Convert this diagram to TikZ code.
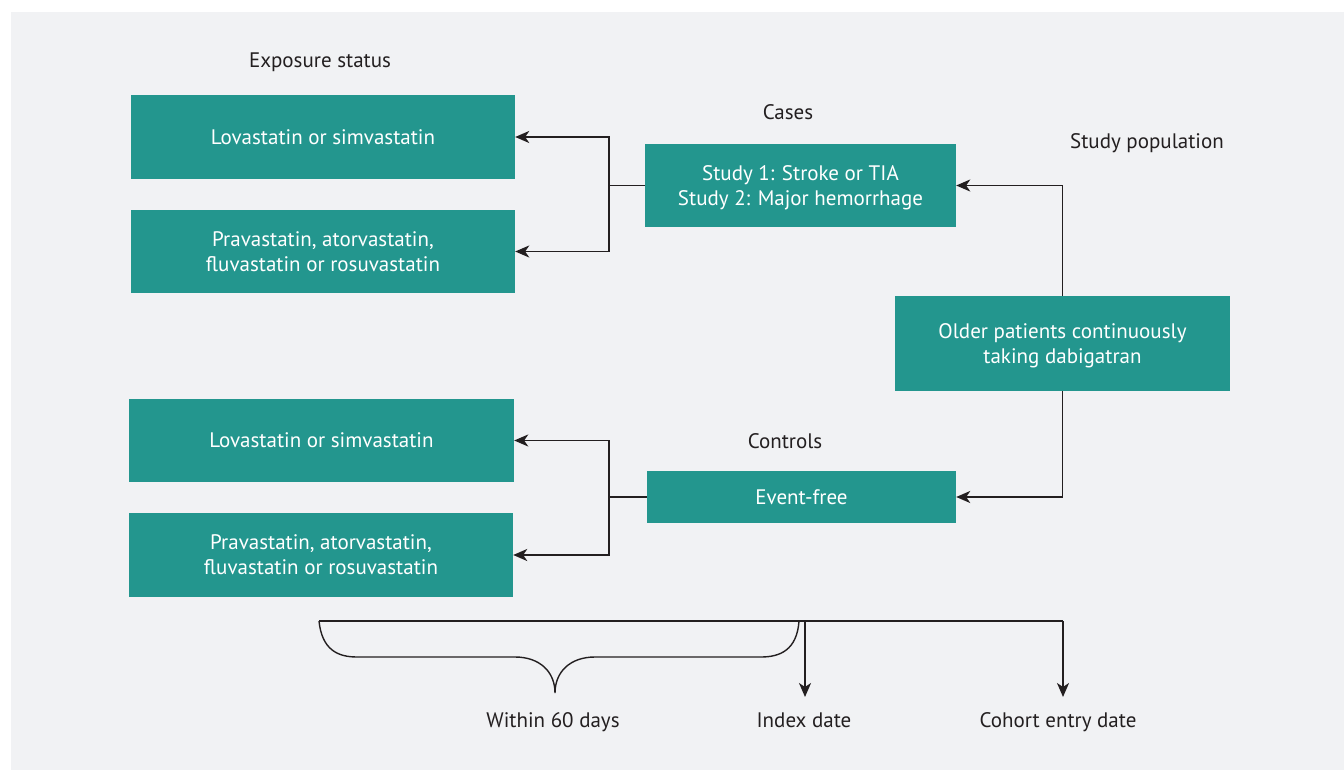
\documentclass[tikz,border=0pt]{standalone}
\usepackage{fontspec}
\setmainfont{PT Sans}
\usetikzlibrary{arrows.meta}
\definecolor{bg}{HTML}{F1F2F4}
\definecolor{teal}{HTML}{23968E}
\definecolor{ink}{HTML}{231F20}
\tikzset{
  box/.style={rectangle, fill=teal, text=white, align=center, inner sep=0pt,
    text depth=0pt, font=\fontsize{21}{25}\selectfont},
  lbl/.style={text=ink, font=\fontsize{21}{25}\selectfont, inner sep=0pt, anchor=base},
  conn/.style={draw=ink, line width=1.8pt},
  arr/.style={conn, -{Stealth[length=14pt,width=12pt,inset=4pt]}},
}
\begin{document}
\begin{tikzpicture}[x=1pt,y=-1pt]
\useasboundingbox (0,0) rectangle (1344,770);
\fill[bg] (11,12) rectangle (1344,770);

\node[lbl] (exp) at (320,68) {Exposure status};
\node[lbl] (caseslbl) at (788,120) {Cases};
\node[lbl] (poplbl) at (1147,149) {Study population};
\node[lbl] (ctrllbl) at (785,448) {Controls};

\node[box, minimum width=384pt, minimum height=84pt] (a1) at (323,137) {Lovastatin or simvastatin};
\node[box, minimum width=384pt, minimum height=83pt] (a2) at (323,251.5) {Pravastatin, atorvastatin,\\fluvastatin or rosuvastatin};
\node[box, minimum width=311pt, minimum height=83pt] (cases) at (800.5,185.5) {Study 1: Stroke or TIA\\Study 2: Major hemorrhage};
\node[box, minimum width=335pt, minimum height=95pt] (older) at (1062.5,343.5) {Older patients continuously\\taking dabigatran};
\node[box, minimum width=385pt, minimum height=83pt] (b1) at (321.5,440.5) {Lovastatin or simvastatin};
\node[box, minimum width=384pt, minimum height=84pt] (b2) at (321,555) {Pravastatin, atorvastatin,\\fluvastatin or rosuvastatin};
\node[box, minimum width=309pt, minimum height=52pt] (ef) at (801.5,497) {Event-free};

\coordinate (j1) at (609,185.5);
\draw[conn] (cases.west) -- (j1);
\draw[arr] (j1) |- (a1.east);
\draw[arr] (j1) |- (a2.east);

\coordinate (j2) at (609,497);
\draw[conn] (ef.west) -- (j2);
\draw[arr] (j2) |- (b1.east);
\draw[arr] (j2) |- (b2.east);

\draw[arr] (older.north) |- (cases.east);
\draw[arr] (older.south) |- (ef.east);

\node[lbl] (within) at (553,727) {Within 60 days};
\node[lbl] (index) at (804,727) {Index date};
\node[lbl] (cohort) at (1058,727) {Cohort entry date};

\coordinate (t0) at (319,621);
\coordinate (tidx) at (805,621);
\coordinate (tend) at (1063,621);
\coordinate (idxend) at (805,697);
\coordinate (cohend) at (1063,697);
\draw[conn] (t0) -- (tend);
\draw[arr] (tend) -- (cohend);
\draw[arr] (tidx) -- (idxend);

\draw[draw=ink, line width=1.4pt]
  (319,621) .. controls (322,650) and (338,657) .. (357,657) -- (515,657)
  .. controls (540,657) and (555,672) .. (555,693)
  .. controls (555,672) and (570,657) .. (595,657) -- (761,657)
  .. controls (780,657) and (797,650) .. (799,621);
\end{tikzpicture}
\end{document}
